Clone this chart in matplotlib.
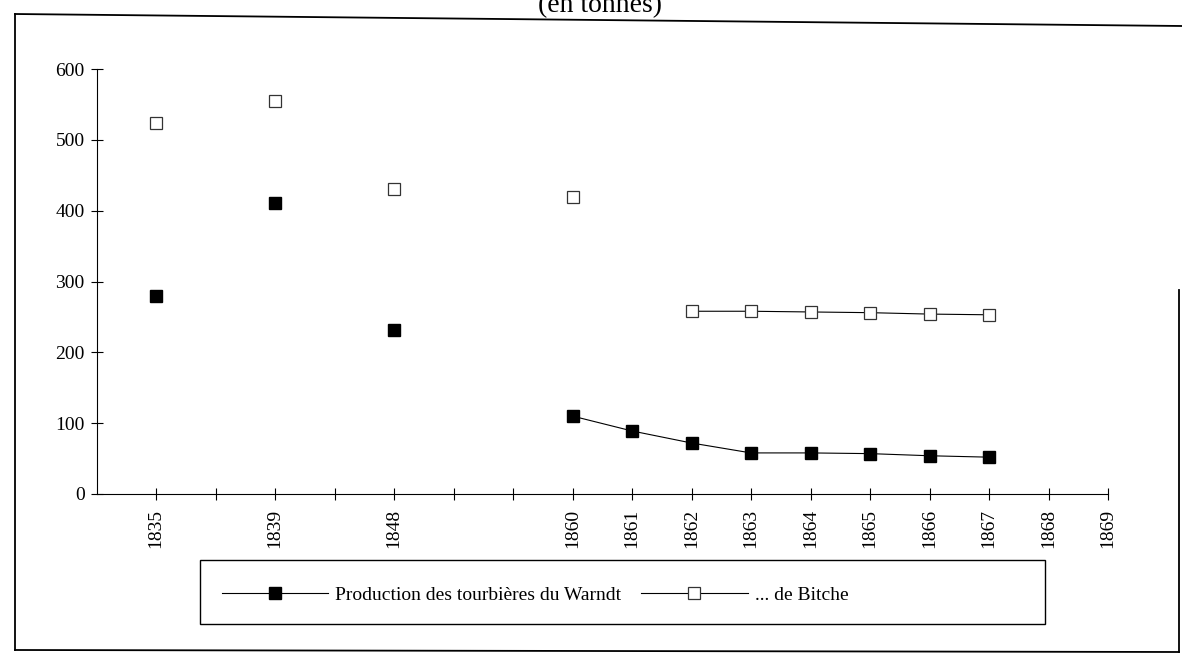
import numpy as np
import matplotlib
matplotlib.use("Agg")
import matplotlib.pyplot as plt
from matplotlib.lines import Line2D
from matplotlib.patches import Rectangle

plt.rcParams['font.family'] = ['Liberation Serif', 'DejaVu Serif']

# années (catégories de l'axe x, vides = emplacements sans étiquette)
annees = ['1835', '', '1839', '', '1848', '', '', '1860', '1861', '1862',
          '1863', '1864', '1865', '1866', '1867', '1868', '1869']
nan = np.nan
# production en tonnes
warndt = [280, nan, 411, nan, 232, nan, nan, 110, 89, 72, 58, 58, 57, 54, 52, nan, nan]
bitche = [524, nan, 555, nan, 431, nan, nan, 419, nan, 258, 258, 257, 256, 254, 253, nan, nan]
yticks = [0, 100, 200, 300, 400, 500, 600]

W, H = 1182, 658
fig = plt.figure(figsize=(W / 100, H / 100), dpi=100)

def fx(px):
    return px / W

def fy(py):
    return 1 - py / H

ax = fig.add_axes([fx(96.5), fy(494), fx(1108) - fx(96.5), fy(69) - fy(494)])
x = np.arange(len(annees))

ax.plot(x, warndt, color='black', linewidth=0.8, marker='s', markersize=8.5,
        markerfacecolor='black', markeredgecolor='black',
        label='Production des tourbières du Warndt')
ax.plot(x, bitche, color='black', linewidth=0.8, marker='s', markersize=9,
        markerfacecolor='white', markeredgecolor='#333333', markeredgewidth=0.9,
        label='... de Bitche')

ax.set_xlim(-1, len(annees) - 1)
ax.set_ylim(0, 600)
ax.set_xticks(x)
ax.set_xticklabels(annees, rotation=90, fontsize=14)
ax.set_yticks(yticks)
ax.set_yticklabels([str(v) for v in yticks], fontsize=14)
ax.tick_params(axis='both', direction='inout', length=9, width=0.8, color='black')
ax.tick_params(axis='x', pad=6)
ax.tick_params(axis='y', pad=4)
for s in ['top', 'right']:
    ax.spines[s].set_visible(False)
for s in ['left', 'bottom']:
    ax.spines[s].set_linewidth(0.8)
ax.set_facecolor('none')

# cadre extérieur
fig.add_artist(Line2D([fx(15), fx(15)], [fy(14), fy(650)], color='black', lw=1.3))
fig.add_artist(Line2D([fx(15), fx(1182)], [fy(14), fy(26)], color='black', lw=1.3))
fig.add_artist(Line2D([fx(15), fx(1179)], [fy(650), fy(652)], color='black', lw=1.3))
fig.add_artist(Line2D([fx(1179), fx(1179)], [fy(290), fy(652)], color='black', lw=1.3))

fig.text(fx(600), fy(12), '(en tonnes)', fontsize=20, ha='center', va='baseline')

# légende
fig.add_artist(Rectangle((fx(200), fy(624)), fx(1045) - fx(200), fy(560) - fy(624),
                         fill=False, edgecolor='black', linewidth=1.0))
handles, labels = ax.get_legend_handles_labels()
fig.legend(handles, labels, loc='center left', bbox_to_anchor=(fx(204), fy(595)),
           ncol=2, frameon=False, fontsize=14, handlelength=5.5,
           handletextpad=0.35, columnspacing=1.0)

fig.savefig('out.png', dpi=100, facecolor='white')
